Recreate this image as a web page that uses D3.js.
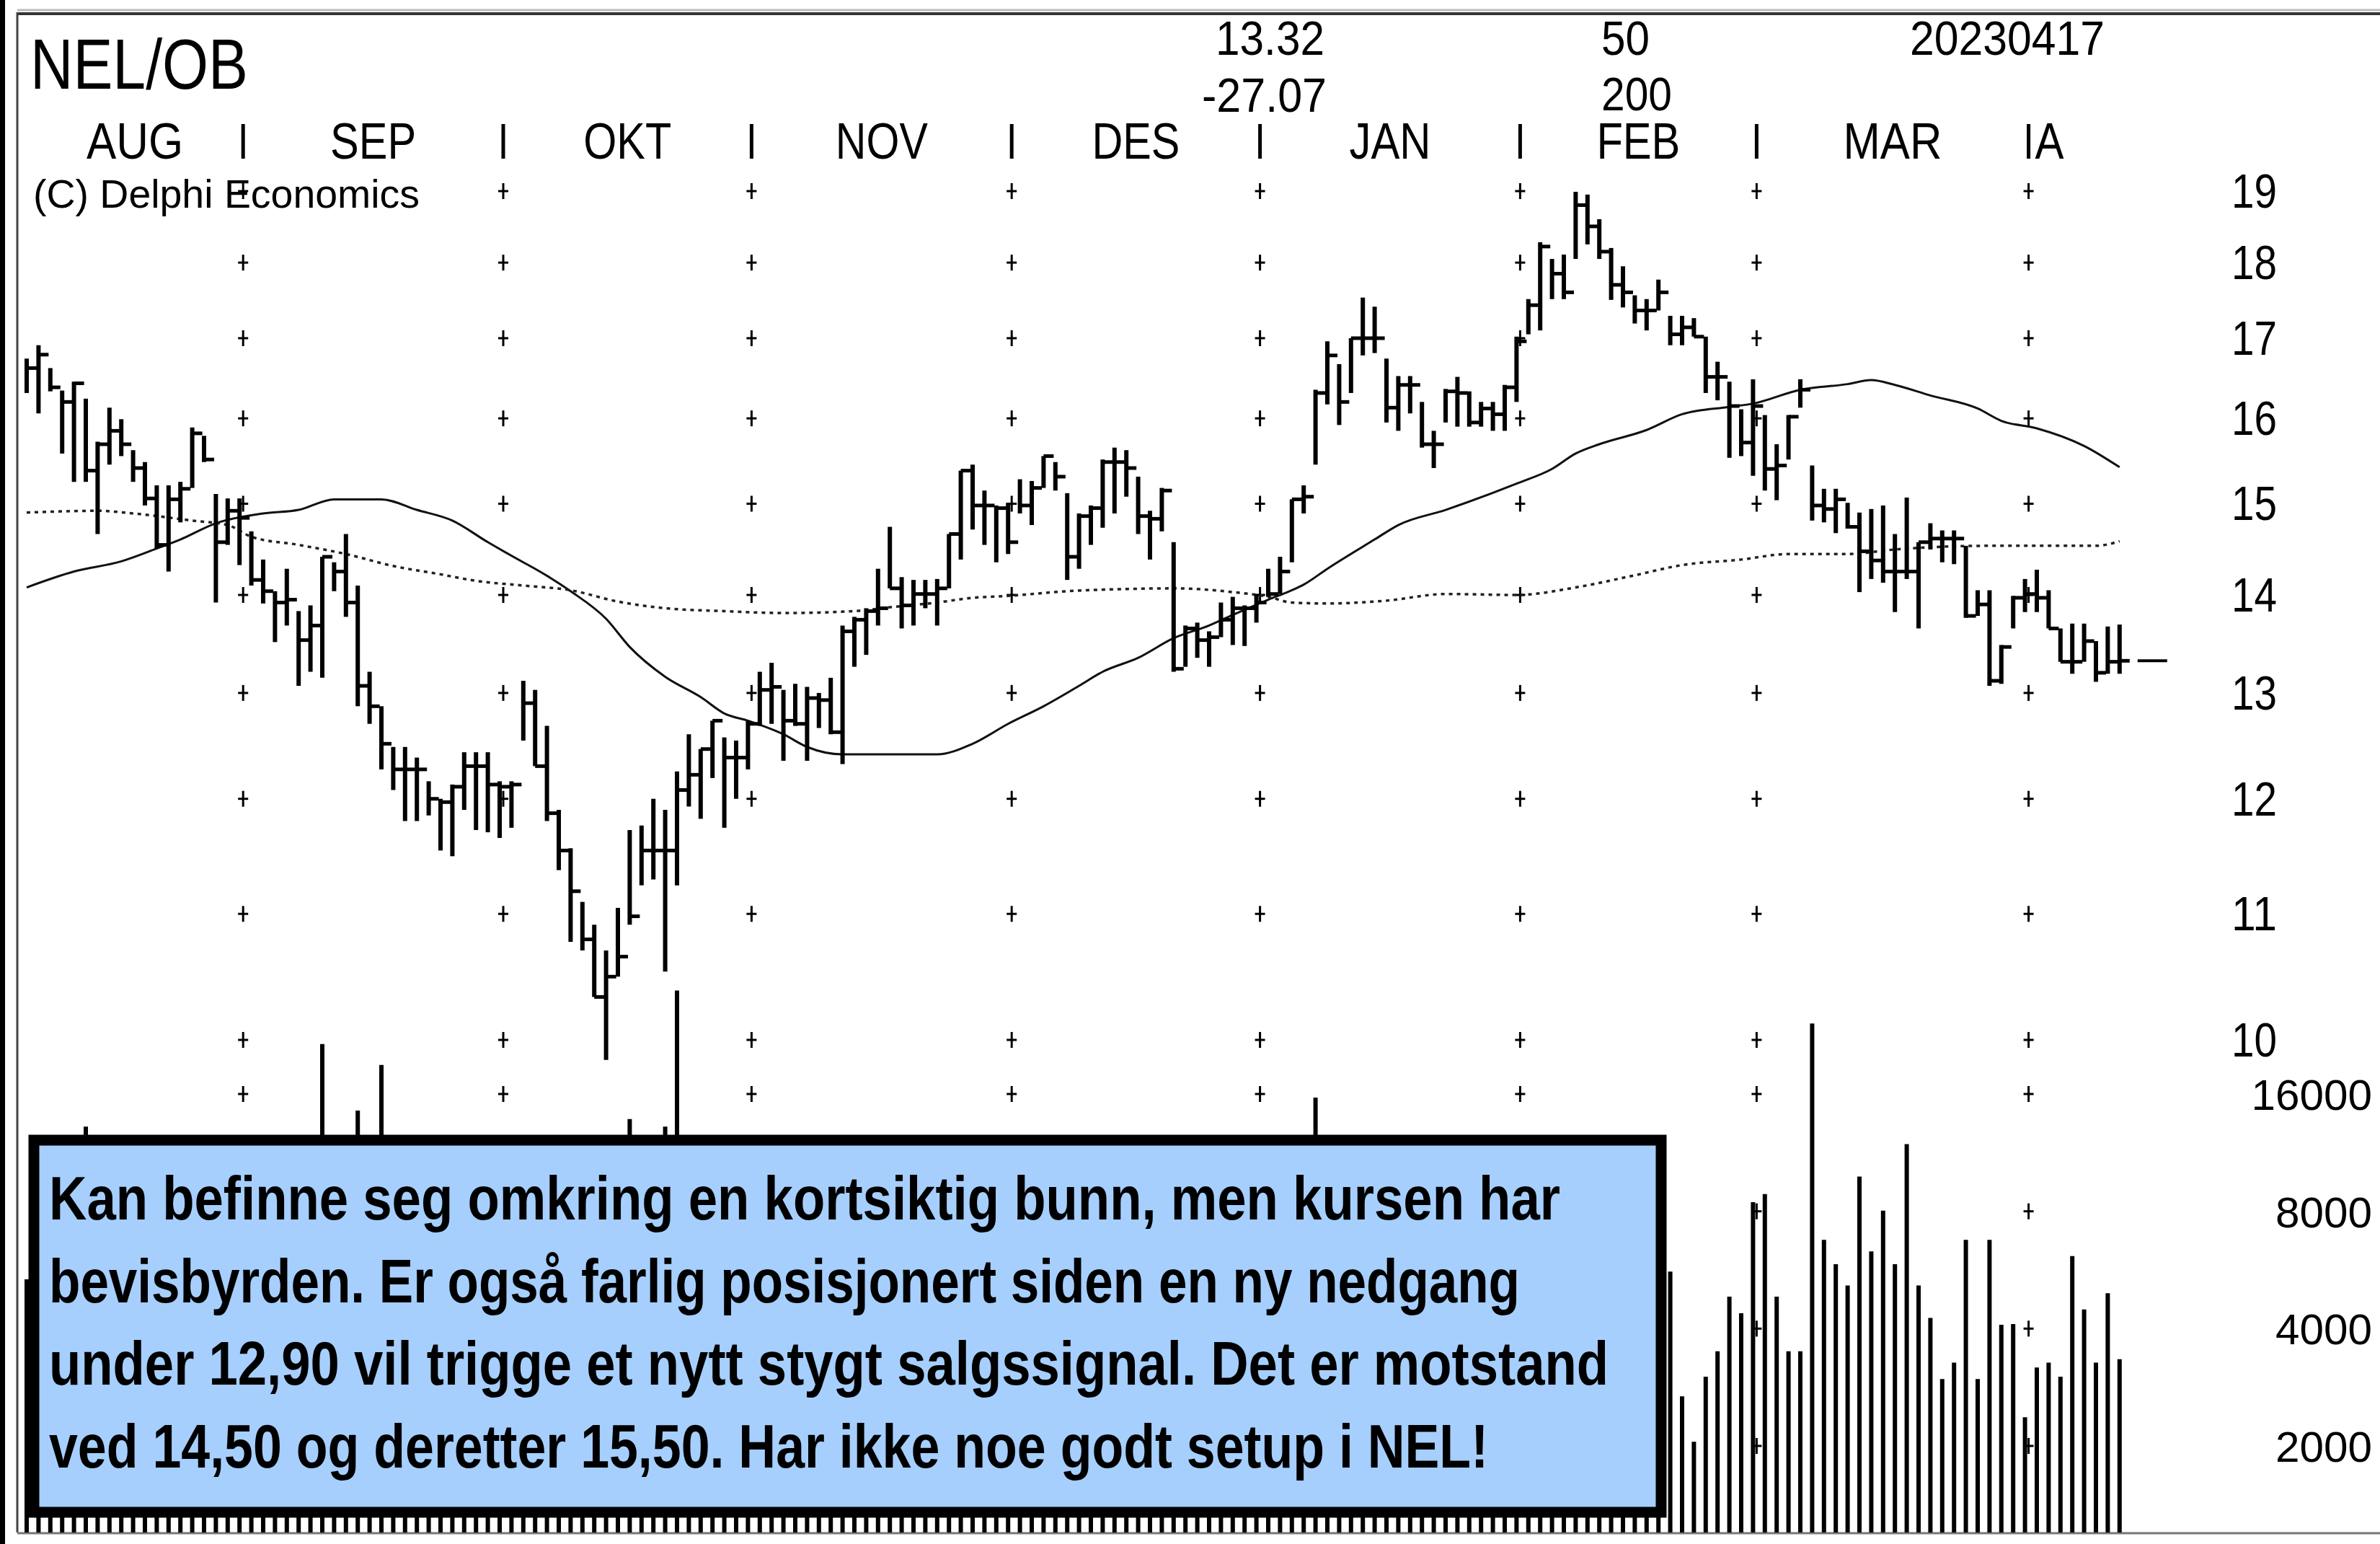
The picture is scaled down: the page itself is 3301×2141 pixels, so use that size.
<!DOCTYPE html>
<html>
<head>
<meta charset="utf-8">
<script src="https://cdn.jsdelivr.net/npm/d3@7"></script>
<style>
body { margin: 0; background: #fff; }
svg { display: block; }
</style>
</head>
<body>
<script>
// daily bars, one per trading day (Aug 2022 - 17 Apr 2023)
var highs = [16.74,16.91,16.62,16.34,16.45,16.24,15.72,16.13,15.99,15.62,15.48,15.21,15.21,15.25,15.89,15.79,15.11,15.06,15.06,
  14.69,14.38,14.04,14.28,13.83,13.89,14.41,14.35,14.66,14.10,13.21,12.87,12.48,12.48,12.38,12.16,12.00,12.13,12.43,12.43,12.43,12.16,
  12.16,13.12,13.03,12.68,11.90,11.56,11.10,10.91,10.70,11.05,11.72,11.76,12.00,11.90,12.25,12.60,12.46,12.73,12.57,12.54,12.73,
  13.21,13.30,13.03,13.09,13.06,13.00,13.15,13.68,13.77,13.86,14.28,14.74,14.19,14.16,14.16,14.17,14.66,15.38,15.45,15.15,14.98,15.01,
  15.28,15.26,15.55,15.48,15.12,14.89,14.98,15.51,15.65,15.62,15.31,14.92,15.18,14.57,13.68,13.71,13.62,13.92,13.98,13.89,14.01,
  14.28,14.41,15.05,15.21,16.35,16.96,16.67,17.00,17.53,17.41,16.74,16.52,16.52,16.20,15.85,16.36,16.51,16.33,16.20,16.20,16.41,17.02,
  17.51,18.28,18.05,18.11,18.99,18.95,18.60,18.20,17.95,17.56,17.51,17.77,17.29,17.29,17.26,17.02,16.70,16.45,16.11,
  16.48,16.04,15.69,16.04,16.48,15.44,15.17,15.17,15.01,14.90,14.94,14.98,14.66,15.07,14.57,14.78,14.70,14.70,14.53,14.05,14.05,13.48,13.99,
  14.17,14.27,14.05,13.65,13.70,13.70,13.52,13.67,13.69];
var lows = [16.31,16.06,16.33,15.58,15.25,15.25,14.66,15.45,15.55,15.25,14.98,14.50,14.25,14.79,15.18,15.48,13.92,14.54,14.32,
  14.10,13.91,13.51,13.68,13.07,13.21,13.15,14.04,13.77,12.87,12.70,12.27,12.08,11.80,11.80,11.85,11.54,11.49,11.90,11.72,11.70,11.65,
  11.74,12.54,12.30,11.80,11.37,10.77,10.70,10.33,9.85,10.49,10.91,11.24,11.29,10.53,11.24,11.93,11.82,12.19,11.74,12.00,12.27,
  12.68,12.70,12.35,12.68,12.35,12.66,12.60,12.32,13.26,13.38,13.68,14.07,13.65,13.68,13.86,13.68,14.07,14.38,14.71,14.54,14.35,14.44,
  14.89,14.76,15.18,15.15,14.16,14.28,14.54,14.73,14.89,15.08,14.66,14.38,14.69,13.21,13.26,13.35,13.26,13.56,13.48,13.47,13.71,
  13.98,14.01,14.35,14.89,15.45,16.17,15.92,16.31,16.78,16.81,15.95,15.85,16.06,15.65,15.41,15.95,15.90,15.90,15.90,15.85,15.85,16.20,
  17.05,17.10,17.51,17.51,18.05,18.25,18.05,17.50,17.40,17.19,17.10,17.36,16.91,16.91,17.02,16.31,16.22,15.53,15.55,
  15.32,15.15,15.04,15.51,16.13,14.81,14.79,14.67,14.72,14.03,14.17,14.13,13.82,14.17,13.65,14.49,14.35,14.33,13.76,13.78,13.07,13.09,13.65,
  13.82,13.82,13.65,13.31,13.19,13.31,13.11,13.19,13.19];
var closes = [16.62,16.79,16.38,16.20,16.43,15.38,15.69,15.85,15.69,15.41,15.06,14.54,15.05,15.17,15.82,15.51,14.57,14.92,14.84,
  14.16,14.04,13.92,13.95,13.53,13.68,14.41,14.25,13.92,13.07,12.87,12.51,12.27,12.27,12.27,12.00,11.97,12.11,12.30,12.30,12.13,12.11,
  12.13,12.90,12.30,11.87,11.54,11.19,10.79,10.33,10.49,10.65,10.98,11.54,11.54,11.54,12.08,12.22,12.46,12.73,12.38,12.38,12.70,
  13.03,13.06,12.73,12.70,12.95,12.93,12.62,13.62,13.74,13.83,13.86,14.07,13.89,14.01,14.01,14.07,14.66,15.38,14.98,14.98,14.95,14.57,
  14.98,15.18,15.55,15.31,14.41,14.86,14.95,15.48,15.48,15.41,14.86,14.83,15.15,13.24,13.65,13.53,13.56,13.74,13.86,13.86,13.92,
  14.01,14.25,15.05,15.08,16.31,16.78,16.20,17.00,17.00,17.00,16.13,16.41,16.41,15.69,15.69,16.33,16.31,15.95,16.12,16.05,16.38,16.96,
  17.43,18.22,17.85,17.60,18.80,18.50,18.15,17.70,17.60,17.36,17.36,17.60,17.05,17.14,17.02,16.51,16.51,16.15,15.71,
  16.15,15.40,15.44,16.02,16.35,14.98,14.94,15.05,14.74,14.47,14.37,14.25,14.25,14.25,14.57,14.61,14.61,14.61,13.78,13.90,13.12,13.46,13.97,
  14.01,13.97,13.65,13.31,13.31,13.52,13.20,13.31,13.32];
// volume per day (thousands)
var volumes = [5350,5400,4800,7100,6500,13200,8300,5900,4700,5200,6100,7400,6800,5300,6900,4600,8800,5700,6300,
  7200,6400,7900,5600,8600,9400,21500,7700,6900,14500,8100,19000,9200,7400,6600,5900,6800,7300,6100,5500,6400,5800,
  6200,9900,8700,10200,8900,11600,9500,10800,12100,9700,13800,8400,7900,13200,29500,11200,9300,8600,7400,6900,6300,
  5800,6700,7200,5100,4900,6300,5400,9800,7600,6100,6800,8900,5700,5200,4800,5500,8200,10400,7300,6600,5900,6200,
  5400,5800,6900,5100,7800,6400,5600,7100,6300,5000,6700,5300,4900,11800,7400,6100,5600,5900,5200,4700,5500,
  6800,6200,9600,7300,15660,10900,8800,7700,9400,8100,7000,6500,5800,6400,5600,5200,4900,6100,5300,4800,5700,8300,
  7600,10500,7800,6900,9800,8600,7400,6700,7100,6200,6800,6500,
  5600,2680,2050,3010,3500,4830,4380,8440,8860,4830,3500,3500,24260,6760,5850,5160,9820,6310,8030,5850,11900,5160,
  4260,2970,3270,6760,2970,6760,4090,4110,2370,3180,3270,3010,6140,4480,3270,4930,3340];
// moving averages: [day index, value]
var ma50 = [[0,14.08],[4,14.25],[8,14.36],[11,14.50],[13,14.60],[16,14.78],[20,14.89],[23,14.93],[26,15.05],[30,15.05],
  [33,14.93],[36,14.81],[39,14.57],[42,14.35],[43,14.28],[46,14.04],[49,13.75],[51,13.46],[54,13.16],[57,12.96],[59,12.80],
  [61,12.73],[64,12.60],[66,12.48],[69,12.41],[77,12.41],[80,12.51],[83,12.70],[86,12.87],[89,13.07],[91,13.21],[94,13.35],
  [97,13.55],[100,13.68],[102,13.79],[105,13.95],[107,14.05],[108,14.11],[110,14.28],[114,14.60],[116,14.76],[120,14.93],
  [126,15.23],[129,15.40],[131,15.58],[133,15.69],[137,15.86],[140,16.05],[144,16.14],[146,16.18],[150,16.35],[154,16.42],
  [156,16.47],[158,16.41],[161,16.28],[165,16.12],[167,15.97],[170,15.88],[174,15.67],[177,15.42]];
var ma200 = [[0,14.90],[6,14.92],[9,14.89],[14,14.81],[17,14.76],[19,14.63],[23,14.54],[27,14.44],[31,14.31],[35,14.22],
  [38,14.15],[42,14.10],[46,14.05],[50,13.93],[54,13.86],[59,13.83],[64,13.81],[70,13.83],[73,13.87],[77,13.92],[80,13.97],
  [83,13.99],[88,14.04],[92,14.06],[97,14.07],[102,14.03],[105,13.98],[107,13.92],[110,13.91],[115,13.94],[120,14.01],
  [126,14.00],[131,14.08],[136,14.21],[140,14.32],[145,14.38],[149,14.44],[154,14.44],[158,14.49],[162,14.52],[166,14.53],
  [175,14.53],[177,14.58]];

var months = ["AUG","SEP","OKT","NOV","DES","JAN","FEB","MAR"];
var monthEnds = [18,40,61,83,104,126,146,169];   // last trading day of each month
var aprilLabel = "A";
var priceTicks = [10,11,12,13,14,15,16,17,18,19];
var volTicks = [16000,8000,4000,2000];
var ticker = "NEL/OB", lastPrice = "13.32", change = "-27.07", maPeriods = ["50","200"], stamp = "20230417";
var copyright = "(C) Delphi Economics";
var note = ["Kan befinne seg omkring en kortsiktig bunn, men kursen har",
  "bevisbyrden. Er også farlig posisjonert siden en ny nedgang",
  "under 12,90 vil trigge et nytt stygt salgssignal. Det er motstand",
  "ved 14,50 og deretter 15,50. Har ikke noe godt setup i NEL!"];

var W = 3301, H = 2141;
var narrow = "'Liberation Sans Narrow','Arial Narrow','Liberation Sans',Arial,sans-serif";

var x = d3.scaleLinear().domain([0, 177]).range([37, 37 + 16.4 * 177]);
var y = d3.scaleLog().domain([10, 19]).range([1442, 265]);
var yv = d3.scaleLog().base(2).domain([2000, 16000]).range([2005, 1517]);
var volBase = 2125;

var svg = d3.select('body').append('svg')
    .attr('width', W).attr('height', H)
    .style('background', '#fff');

function txt(s, tx, ty, size, len, weight) {
  var t = svg.append('text')
    .attr('x', tx).attr('y', ty)
    .style('font-family', narrow)
    .style('font-size', size + 'px')
    .style('font-weight', weight || 'normal')
    .attr('fill', '#000')
    .text(s);
  if (len) t.attr('textLength', len).attr('lengthAdjust', 'spacingAndGlyphs');
  return t;
}

// frame
svg.append('rect').attr('x', 0).attr('y', 0).attr('width', 7).attr('height', H).attr('fill', '#000');
svg.append('line').attr('x1', 24).attr('x2', W).attr('y1', 14).attr('y2', 14).attr('stroke', '#bbb').attr('stroke-width', 3);
svg.append('line').attr('x1', 24).attr('x2', W).attr('y1', 19).attr('y2', 19).attr('stroke', '#333').attr('stroke-width', 4);
svg.append('line').attr('x1', 24).attr('x2', 24).attr('y1', 17).attr('y2', volBase).attr('stroke', '#444').attr('stroke-width', 3);
svg.append('line').attr('x1', 24).attr('x2', W).attr('y1', volBase + 1).attr('y2', volBase + 1).attr('stroke', '#777').attr('stroke-width', 3);

// grid crosses at month ends
var gx = monthEnds.map(function(d) { return x(d) + 5; });
var gy = priceTicks.map(function(d) { return y(d); }).concat(volTicks.map(function(d) { return yv(d); }));
var crosses = svg.append('g').attr('stroke', '#000').attr('stroke-width', 3);
gx.forEach(function(cx) {
  gy.forEach(function(cy) {
    crosses.append('line').attr('x1', cx).attr('x2', cx).attr('y1', cy - 11).attr('y2', cy + 11);
    crosses.append('line').attr('x1', cx - 7).attr('x2', cx + 7).attr('y1', cy).attr('y2', cy);
  });
});

// volume
svg.append('g').selectAll('line.vol')
  .data(volumes)
  .enter().append('line')
  .attr('x1', function(d, i) { return x(i); })
  .attr('x2', function(d, i) { return x(i); })
  .attr('y1', function(d) { return yv(d); })
  .attr('y2', volBase)
  .attr('stroke', '#000').attr('stroke-width', 6);

// moving averages
var maLine = d3.line()
  .x(function(d) { return x(d[0]); })
  .y(function(d) { return y(d[1]); })
  .curve(d3.curveMonotoneX);
svg.append('path').attr('d', maLine(ma50)).attr('fill', 'none').attr('stroke', '#111').attr('stroke-width', 3);
svg.append('path').attr('d', maLine(ma200)).attr('fill', 'none').attr('stroke', '#222')
  .attr('stroke-width', 3.5).attr('stroke-dasharray', '5,6');

// price bars (high-low with close tick)
var bars = svg.append('g').attr('stroke', '#000');
bars.selectAll('line.hl')
  .data(highs)
  .enter().append('line')
  .attr('x1', function(d, i) { return x(i); })
  .attr('x2', function(d, i) { return x(i); })
  .attr('y1', function(d) { return y(d); })
  .attr('y2', function(d, i) { return y(lows[i]); })
  .attr('stroke-width', 6);
bars.selectAll('line.cl')
  .data(closes)
  .enter().append('line')
  .attr('x1', function(d, i) { return x(i); })
  .attr('x2', function(d, i) { return x(i) + 14; })
  .attr('y1', function(d) { return y(d); })
  .attr('y2', function(d) { return y(d); })
  .attr('stroke-width', 5);

// last price marker
svg.append('line')
  .attr('x1', x(177) + 25).attr('x2', x(177) + 66)
  .attr('y1', y(+lastPrice)).attr('y2', y(+lastPrice))
  .attr('stroke', '#000').attr('stroke-width', 4);

// header
txt(ticker, 42, 123, 98, 302);
txt(lastPrice, 1686, 76, 66, 151);
txt(change, 1667, 155, 66, 173);
txt(maPeriods[0], 2221, 76, 66, 67);
txt(maPeriods[1], 2221, 153, 64, 98);
txt(stamp, 2649, 76, 66, 270);
txt(copyright, 46, 288, 56, 536);

// month row
var monthLens = [134, 119, 122, 128, 122, 113, 116, 137];
var starts = [x(0)].concat(gx);
months.forEach(function(m, k) {
  var mid = (starts[k] + gx[k]) / 2;
  txt(m, mid - monthLens[k] / 2, 220, 70, monthLens[k]);
});
gx.forEach(function(cx) {
  svg.append('line').attr('x1', cx).attr('x2', cx).attr('y1', 172).attr('y2', 220)
    .attr('stroke', '#000').attr('stroke-width', 5);
});
txt(aprilLabel, gx[gx.length - 1] + 9, 220, 70, 40);

// right axis labels
priceTicks.forEach(function(p) {
  txt(String(p), 3095, y(p) + 23, 66, 63);
});
volTicks.forEach(function(v) {
  var s = String(v);
  var w = s.length * 33.5;
  txt(s, 3290 - w, yv(v) + 22, 60, w);
});

// comment box
svg.append('rect')
  .attr('x', 47).attr('y', 1581).attr('width', 2257).attr('height', 516)
  .attr('fill', '#a6cffd').attr('stroke', '#000').attr('stroke-width', 15);
var noteLens = [2096, 2040, 2163, 1996];
note.forEach(function(line, k) {
  txt(line, 68, 1691 + k * 114.5, 86, noteLens[k], 'bold');
});
</script>
</body>
</html>
